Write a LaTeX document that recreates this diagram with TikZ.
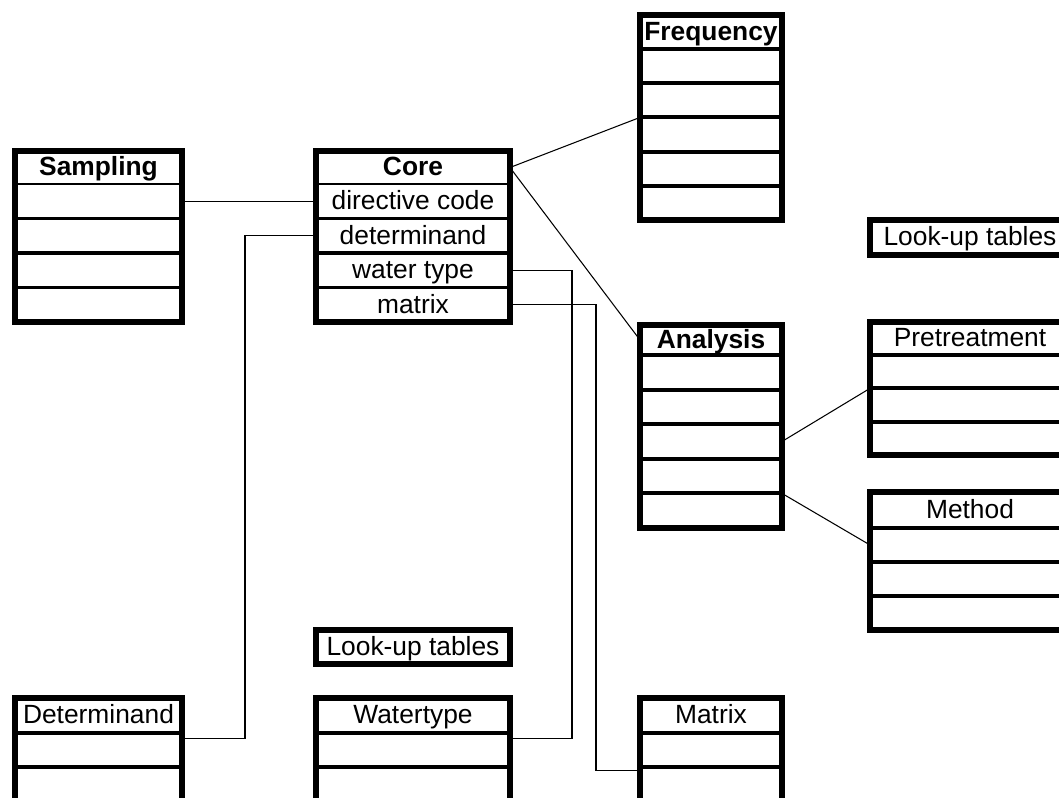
\documentclass[tikz,border=0pt]{standalone}
\usepackage{fontspec}
\setmainfont{Liberation Sans}
\tikzset{
    cell/.style={draw, line width=2.2pt, inner sep=0pt, outer sep=0pt},
    thincell/.style={draw, line width=0.6pt, inner sep=0pt, outer sep=0pt},
    head/.style={inner sep=0pt, outer sep=0pt},
    bhead/.style={head, font=\fontsize{15}{18}\selectfont\bfseries},
    frame/.style={line width=3.2pt},
    box/.style={draw, line width=3.2pt, inner sep=0pt, outer sep=0pt},
    link/.style={line width=0.6pt},
}

\begin{document}
\begin{tikzpicture}[x=0.02cm, y=-0.02cm, every node/.style={font=\fontsize{15}{18}\selectfont, text height=12.6pt, text depth=3pt}]
    \clip (0,0) rectangle (1059,798);
    \fill[white] (0,0) rectangle (1059,798);
    % Sampling table
    \node[bhead, minimum width=3.34cm, minimum height=0.66cm] (samp0) at (98.5,167.5) {Sampling};
    \node[thincell, minimum width=3.34cm, minimum height=0.69cm] (samp1) at (98.5,201.25) {};
    \node[cell, minimum width=3.34cm, minimum height=0.69cm] (samp2) at (98.5,235.75) {};
    \node[cell, minimum width=3.34cm, minimum height=0.69cm] (samp3) at (98.5,270.25) {};
    \node[cell, minimum width=3.34cm, minimum height=0.69cm] (samp4) at (98.5,304.75) {};
    \draw[frame] (samp0.north west) rectangle (samp4.south east);
    % Core table
    \node[bhead, minimum width=3.88cm, minimum height=0.66cm] (core0) at (413,167.5) {Core};
    \node[thincell, minimum width=3.88cm, minimum height=0.69cm] (core1) at (413,201.25) {directive code};
    \node[cell, minimum width=3.88cm, minimum height=0.69cm] (core2) at (413,235.75) {determinand};
    \node[cell, minimum width=3.88cm, minimum height=0.69cm] (core3) at (413,270.25) {water type};
    \node[cell, minimum width=3.88cm, minimum height=0.69cm] (core4) at (413,304.75) {matrix};
    \draw[frame] (core0.north west) rectangle (core4.south east);
    % Frequency table
    \node[bhead, minimum width=2.84cm, minimum height=0.68cm] (freq0) at (711,32) {Frequency};
    \node[cell, minimum width=2.84cm, minimum height=0.684cm] (freq1) at (711,66.1) {};
    \node[cell, minimum width=2.84cm, minimum height=0.684cm] (freq2) at (711,100.3) {};
    \node[cell, minimum width=2.84cm, minimum height=0.684cm] (freq3) at (711,134.5) {};
    \node[cell, minimum width=2.84cm, minimum height=0.684cm] (freq4) at (711,168.7) {};
    \node[cell, minimum width=2.84cm, minimum height=0.684cm] (freq5) at (711,202.9) {};
    \draw[frame] (freq0.north west) rectangle (freq5.south east);
    % Analysis table
    \node[bhead, minimum width=2.84cm, minimum height=0.6cm] (ana0) at (711,340) {Analysis};
    \node[cell, minimum width=2.84cm, minimum height=0.692cm] (ana1) at (711,372.3) {};
    \node[cell, minimum width=2.84cm, minimum height=0.692cm] (ana2) at (711,406.9) {};
    \node[cell, minimum width=2.84cm, minimum height=0.692cm] (ana3) at (711,441.5) {};
    \node[cell, minimum width=2.84cm, minimum height=0.692cm] (ana4) at (711,476.1) {};
    \node[cell, minimum width=2.84cm, minimum height=0.692cm] (ana5) at (711,510.7) {};
    \draw[frame] (ana0.north west) rectangle (ana5.south east);
    % Look-up tables on the right
    \node[box, minimum width=4cm, minimum height=0.7cm] (lookA) at (970,237.5) {Look-up tables};
    % Pretreatment table
    \node[head, minimum width=4cm, minimum height=0.66cm] (pre0) at (970,338.5) {Pretreatment};
    \node[cell, minimum width=4cm, minimum height=0.667cm] (pre1) at (970,371.67) {};
    \node[cell, minimum width=4cm, minimum height=0.667cm] (pre2) at (970,405) {};
    \node[cell, minimum width=4cm, minimum height=0.667cm] (pre3) at (970,438.33) {};
    \draw[frame] (pre0.north west) rectangle (pre3.south east);
    % Method table
    \node[head, minimum width=4cm, minimum height=0.72cm] (meth0) at (970,510) {Method};
    \node[cell, minimum width=4cm, minimum height=0.68cm] (meth1) at (970,545) {};
    \node[cell, minimum width=4cm, minimum height=0.68cm] (meth2) at (970,579) {};
    \node[cell, minimum width=4cm, minimum height=0.68cm] (meth3) at (970,613) {};
    \draw[frame] (meth0.north west) rectangle (meth3.south east);
    % Look-up tables at the bottom
    \node[box, minimum width=3.88cm, minimum height=0.68cm] (lookB) at (413,647) {Look-up tables};
    % Determinand table
    \node[head, minimum width=3.34cm, minimum height=0.7cm] (det0) at (98.5,715.5) {Determinand};
    \node[cell, minimum width=3.34cm, minimum height=0.68cm] (det1) at (98.5,750) {};
    \node[cell, minimum width=3.34cm, minimum height=1.26cm] (det2) at (98.5,798.5) {};
    \draw[frame] (det0.north west) rectangle (det2.south east);
    % Watertype table
    \node[head, minimum width=3.88cm, minimum height=0.7cm] (wat0) at (413,715.5) {Watertype};
    \node[cell, minimum width=3.88cm, minimum height=0.68cm] (wat1) at (413,750) {};
    \node[cell, minimum width=3.88cm, minimum height=1.26cm] (wat2) at (413,798.5) {};
    \draw[frame] (wat0.north west) rectangle (wat2.south east);
    % Matrix table
    \node[head, minimum width=2.84cm, minimum height=0.7cm] (mat0) at (711,715.5) {Matrix};
    \node[cell, minimum width=2.84cm, minimum height=0.68cm] (mat1) at (711,750) {};
    \node[cell, minimum width=2.84cm, minimum height=1.26cm] (mat2) at (711,798.5) {};
    \draw[frame] (mat0.north west) rectangle (mat2.south east);
    % Links
    \draw[link] (samp1.east) -- (core1.west);
    \draw[link] (core2.west) -- ++(-71,0) |- ([yshift=-3pt]det1.north east);
    \draw[link] (core3.east) -- ++(62,0) |- ([yshift=-3pt]wat1.north east);
    \draw[link] (core4.east) -- ++(86,0) |- ([yshift=-2pt]mat2.north west);
    \draw[link] (core0.east) -- (freq3.north west);
    \draw[link] (core0.east) -- (ana0.west);
    \draw[link] (ana3.east) -- (pre2.north west);
    \draw[link] (ana5.north east) -- (meth1.west);
\end{tikzpicture}
\end{document}
